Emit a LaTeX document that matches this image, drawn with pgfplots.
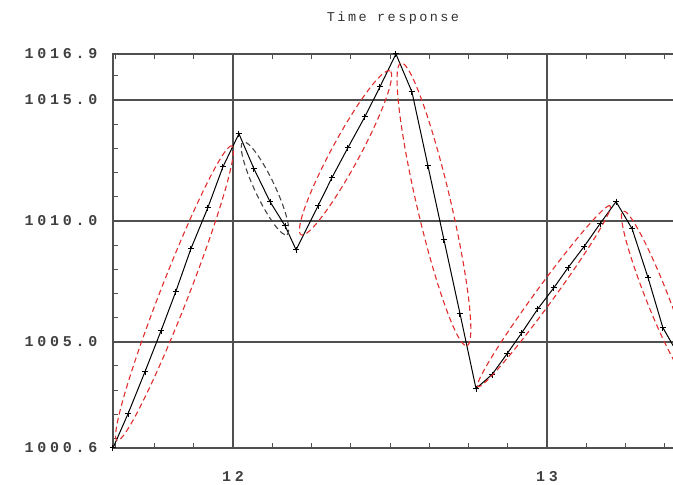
\documentclass[border=0pt]{standalone}
\usepackage{fontspec}
\setmainfont{Liberation Mono}
\newfontfamily\tickfont[LetterSpace=25]{Liberation Mono}
\newfontfamily\titlefont[LetterSpace=18]{Liberation Mono}
\usepackage{pgfplots}
\usepackage{pgfplotstable}
\pgfplotsset{compat=1.18}
\usetikzlibrary{calc}

\definecolor{gridgray}{RGB}{80,80,80}
\definecolor{bandred}{RGB}{225,45,45}
\definecolor{banddark}{RGB}{70,70,70}

% sampled response (time, value)
\pgfplotstableread{
t       p
11.618  1000.60
11.666  1002.02
11.720  1003.76
11.771  1005.45
11.818  1007.07
11.866  1008.84
11.920  1010.54
11.968  1012.23
12.019  1013.60
12.067  1012.15
12.118  1010.79
12.166  1009.79
12.201  1008.80
12.271  1010.62
12.315  1011.78
12.366  1013.02
12.420  1014.30
12.468  1015.54
12.519  1016.90
12.570  1015.33
12.621  1012.27
12.672  1009.21
12.723  1006.16
12.774  1003.06
12.825  1003.64
12.873  1004.50
12.920  1005.37
12.971  1006.36
13.022  1007.23
13.067  1008.06
13.118  1008.93
13.169  1009.88
13.220  1010.79
13.271  1009.67
13.322  1007.64
13.369  1005.58
13.420  1004.42
}\response

% dashed ellipse whose long axis runs from #2 to #3, half-width #4 (pt)
\newcommand{\band}[4]{%
  \draw[#1, line width=1.1pt, dash pattern=on 5.5pt off 3.5pt]
    let \p1=(#2), \p2=(#3),
        \n1={atan2(\y2-\y1,\x2-\x1)},
        \n2={veclen(\x2-\x1,\y2-\y1)/2}
    in [rotate around={\n1:($(\p1)!0.5!(\p2)$)}]
       ($(\p1)!0.5!(\p2)$) ellipse [x radius=\n2, y radius=#4pt];
}

\begin{document}
\begin{tikzpicture}
\useasboundingbox (-113pt,-37pt) rectangle (560pt,448pt);
\begin{axis}[
  at={(0pt,0pt)}, anchor=south west,
  scale only axis, width=567pt, height=394pt,
  xmin=11.618, xmax=13.4236, ymin=1000.6, ymax=1016.9,
  xtick={12,13}, xticklabels={12,13},
  minor xtick={11.625,11.75,11.875,12.125,12.25,12.375,12.5,12.625,12.75,12.875,13.125,13.25,13.375},
  ytick={1000.6,1005,1010,1015,1016.9},
  yticklabels={1000.6,1005.0,1010.0,1015.0,1016.9},
  minor ytick={1001,1002,1003,1004,1006,1007,1008,1009,1011,1012,1013,1014,1016},
  tick align=inside, tick pos=both,
  major tick length=5pt, minor tick length=5pt,
  tick style={gridgray, line width=0.9pt},
  minor tick style={gridgray, line width=0.9pt},
  xmajorgrids, ymajorgrids,
  major grid style={gridgray, line width=1.8pt},
  axis line style={gridgray, line width=1.8pt},
  ticklabel style={font=\tickfont\bfseries\fontsize{15}{17}\selectfont, text=black!75},
  yticklabel style={xshift=-12pt},
  xticklabel style={yshift=-20pt},
  clip=true,
]
\addplot[black, line width=1pt, mark=+, mark size=3pt,
         mark options={line width=1pt, solid}] table[x=t, y=p] {\response};

\coordinate (a1) at (axis cs:11.631,1000.91);
\coordinate (b1) at (axis cs:11.997,1013.10);
\coordinate (a2) at (axis cs:12.032,1013.26);
\coordinate (b2) at (axis cs:12.172,1009.42);
\coordinate (a3) at (axis cs:12.217,1009.42);
\coordinate (b3) at (axis cs:12.500,1016.20);
\coordinate (a4) at (axis cs:12.535,1016.53);
\coordinate (b4) at (axis cs:12.745,1004.83);
\coordinate (a5) at (axis cs:12.780,1003.14);
\coordinate (b5) at (axis cs:13.201,1010.62);
\coordinate (a6) at (axis cs:13.242,1010.41);
\coordinate (b6) at (axis cs:13.455,1003.39);
\end{axis}

\band{bandred}{a1}{b1}{14}
\band{banddark}{a2}{b2}{10}
\band{bandred}{a3}{b3}{14}
\band{bandred}{a4}{b4}{17}
\band{bandred}{a5}{b5}{9}
\band{bandred}{a6}{b6}{11}

\node[font=\titlefont\fontsize{13.5}{15}\selectfont, text=black!80] at (280pt,430pt) {Time response};
\end{tikzpicture}
\end{document}
